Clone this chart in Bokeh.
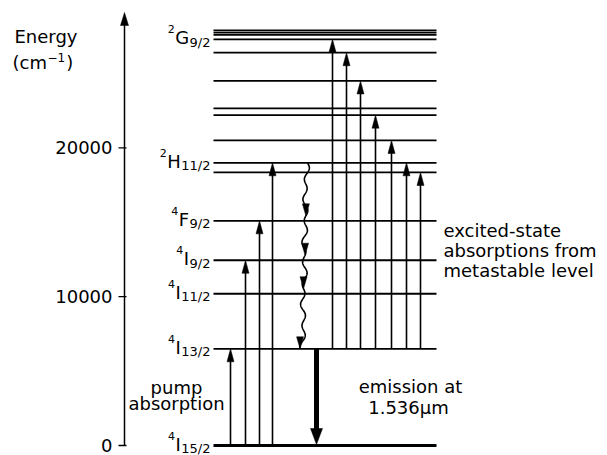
import numpy as np
from bokeh.plotting import figure
from bokeh.models import Range1d
from bokeh.core.properties import value
from bokeh.embed import file_html
from bokeh.resources import INLINE

# ---------------- data (energies in cm^-1) ----------------
LEVEL_E = [6500, 10200, 12450, 15100, 18350, 19000, 20500, 22200, 22650,
           24500, 26400, 27300, 27600, 27750, 27900]
GROUND_E = 0
LABEL_E = [0, 6500, 10200, 12450, 15100, 19000, 27300]
LABEL_SUP = ["4", "4", "4", "4", "4", "2", "2"]
LABEL_MAIN = ["I", "I", "I", "I", "F", "H", "G"]
LABEL_SUB = ["15/2", "13/2", "11/2", "9/2", "9/2", "11/2", "9/2"]

PUMP_COL = [230, 245, 259, 272]            # horizontal columns of pump arrows
PUMP_TOP = [6500, 12450, 15100, 19000]
ESA_COL = [332, 346, 360, 375, 391, 406, 420]
ESA_TOP = [27300, 26400, 24500, 22200, 20500, 19000, 18350]
METASTABLE_E = 6500
RELAX_TOP = 19000
RELAX_STEPS = [15100, 12450, 10200, 6500]
EMISSION_COL = 316
Y_TICKS = [0, 10000, 20000]
Y_TICK_LABELS = ["0", "10000", "20000"]
AXIS_TOP = 29100

# ---------------- layout ----------------
W, H = 607, 455
GROUND_Y = 445
TOP_Y = 12
PX_PER_E = (GROUND_Y - TOP_Y) / AXIS_TOP
FONT = "DejaVu Sans"
AXIS_X = 124

y_start = -(H - GROUND_Y) / PX_PER_E
y_end = GROUND_Y / PX_PER_E


def E_of(y_px):
    return (GROUND_Y - y_px) / PX_PER_E


p = figure(width=W, height=H, output_backend="svg", toolbar_location=None,
           x_range=Range1d(0, W), y_range=Range1d(y_start, y_end),
           x_axis_location=None, y_axis_location=None,
           min_border_left=0, min_border_right=0, min_border_top=0, min_border_bottom=0)
p.outline_line_color = None
p.grid.visible = False
p.background_fill_color = "white"
p.border_fill_color = "white"


def head(x, tip, direction, w, l):
    base = tip - direction * l / PX_PER_E
    return [x - w / 2, x, x + w / 2], [base, tip, base]


hx, hy = [], []

# energy axis
p.segment(x0=[AXIS_X], x1=[AXIS_X], y0=[GROUND_E], y1=[AXIS_TOP - 6 / PX_PER_E],
          line_width=1.5, line_color="black")
a, b = head(AXIS_X, AXIS_TOP, 1, 8, 13)
hx.append(a); hy.append(b)
p.segment(x0=[AXIS_X - 6] * len(Y_TICKS), x1=[AXIS_X + 2] * len(Y_TICKS),
          y0=Y_TICKS, y1=Y_TICKS, line_width=1.3, line_color="black")
p.text(x=[AXIS_X - 12] * len(Y_TICKS), y=Y_TICKS, text=Y_TICK_LABELS,
       text_align="right", text_baseline="middle", text_color="black",
       text_font=value(FONT), text_font_size="18px")

# levels
LX0, LX1 = 213, 436
p.segment(x0=LX0, x1=LX1, y0=LEVEL_E, y1=LEVEL_E, line_width=1.8, line_color="black")
p.segment(x0=[LX0], x1=[LX1], y0=[GROUND_E], y1=[GROUND_E], line_width=3.2, line_color="black")

# level labels
W_CH = {"0": .636, "1": .636, "2": .636, "3": .636, "4": .636, "5": .636, "9": .636,
        "/": .337, "G": .775, "H": .752, "F": .575, "I": .295}
SUB_FS, MAIN_FS, SUP_FS = 13, 18, 11
LAB_RIGHT = 210
sub_x, main_x, sup_x = [], [], []
for m, s in zip(LABEL_MAIN, LABEL_SUB):
    sw = sum(W_CH[c] for c in s) * SUB_FS
    mw = W_CH[m] * MAIN_FS
    sub_x.append(LAB_RIGHT)
    main_x.append(LAB_RIGHT - sw - 0.5)
    sup_x.append(LAB_RIGHT - sw - mw - 1.0)
common = dict(text_align="right", text_baseline="alphabetic", text_color="black",
              text_font=value(FONT))
p.text(x=sub_x, y=LABEL_E, text=LABEL_SUB, y_offset=3, text_font_size=f"{SUB_FS}px", **common)
p.text(x=main_x, y=LABEL_E, text=LABEL_MAIN, y_offset=-1.5, text_font_size=f"{MAIN_FS}px", **common)
p.text(x=sup_x, y=LABEL_E, text=LABEL_SUP, y_offset=-10, text_font_size=f"{SUP_FS}px", **common)

# pump absorption arrows
p.segment(x0=PUMP_COL, x1=PUMP_COL, y0=[GROUND_E] * len(PUMP_COL),
          y1=[t - 6 / PX_PER_E for t in PUMP_TOP], line_width=1.6, line_color="black")
for x, t in zip(PUMP_COL, PUMP_TOP):
    a, b = head(x, t, 1, 7, 13)
    hx.append(a); hy.append(b)
# excited-state absorption arrows
p.segment(x0=ESA_COL, x1=ESA_COL, y0=[METASTABLE_E] * len(ESA_COL),
          y1=[t - 6 / PX_PER_E for t in ESA_TOP], line_width=1.6, line_color="black")
for x, t in zip(ESA_COL, ESA_TOP):
    a, b = head(x, t, 1, 7, 13)
    hx.append(a); hy.append(b)

# wavy non-radiative relaxation
n = 400
tt = np.linspace(0, 1, n)
ew = RELAX_TOP + tt * (METASTABLE_E - RELAX_TOP)
length_px = (RELAX_TOP - METASTABLE_E) * PX_PER_E
xw = (306 - 4 * tt + 2.0 * np.sin(2 * np.pi * tt * length_px / 21.0)
      + 1.0 * np.sin(2 * np.pi * tt * length_px / 53.0 + 1.0))
p.line(xw, ew, line_width=1.6, line_color="black")
for i, lev in enumerate(RELAX_STEPS):
    tip = lev + (0 if i == len(RELAX_STEPS) - 1 else 5 / PX_PER_E)
    xt = float(np.interp(-tip, -ew, xw))
    a, b = head(xt, tip, -1, 7, 12)
    hx.append(a); hy.append(b)

# emission
p.segment(x0=[EMISSION_COL], x1=[EMISSION_COL], y0=[METASTABLE_E], y1=[GROUND_E + 10 / PX_PER_E],
          line_width=5, line_color="black")
a, b = head(EMISSION_COL, GROUND_E + 1 / PX_PER_E, -1, 12, 16)
hx.append(a); hy.append(b)

p.patches(hx, hy, fill_color="black", line_color="black", line_width=0.5)


# texts
def lab(x, y_px, text, size=18, align="left"):
    p.text(x=[x], y=[E_of(y_px)], text=[text], text_font=value(FONT),
           text_font_size=f"{size}px", text_align=align,
           text_baseline="alphabetic", text_color="black")


lab(14, 36, "Energy")
cm_w = (0.390 + 0.550 + 0.974) * 18
lab(12, 62, "(cm")
lab(12 + cm_w + 0.5, 57, "\u22121", size=12)
lab(12 + cm_w + (0.838 + 0.636) * 12 + 1.5, 62, ")")

lab(176, 387, "pump", align="center")
lab(176, 403, "absorption", align="center")
lab(410, 386, "emission at", align="center")
lab(408, 407, "1.536\u03bcm", align="center")
lab(443, 230, "excited-state")
lab(443, 250, "absorptions from")
lab(443, 270, "metastable level")

open("out.html", "w").write(file_html(p, INLINE))
